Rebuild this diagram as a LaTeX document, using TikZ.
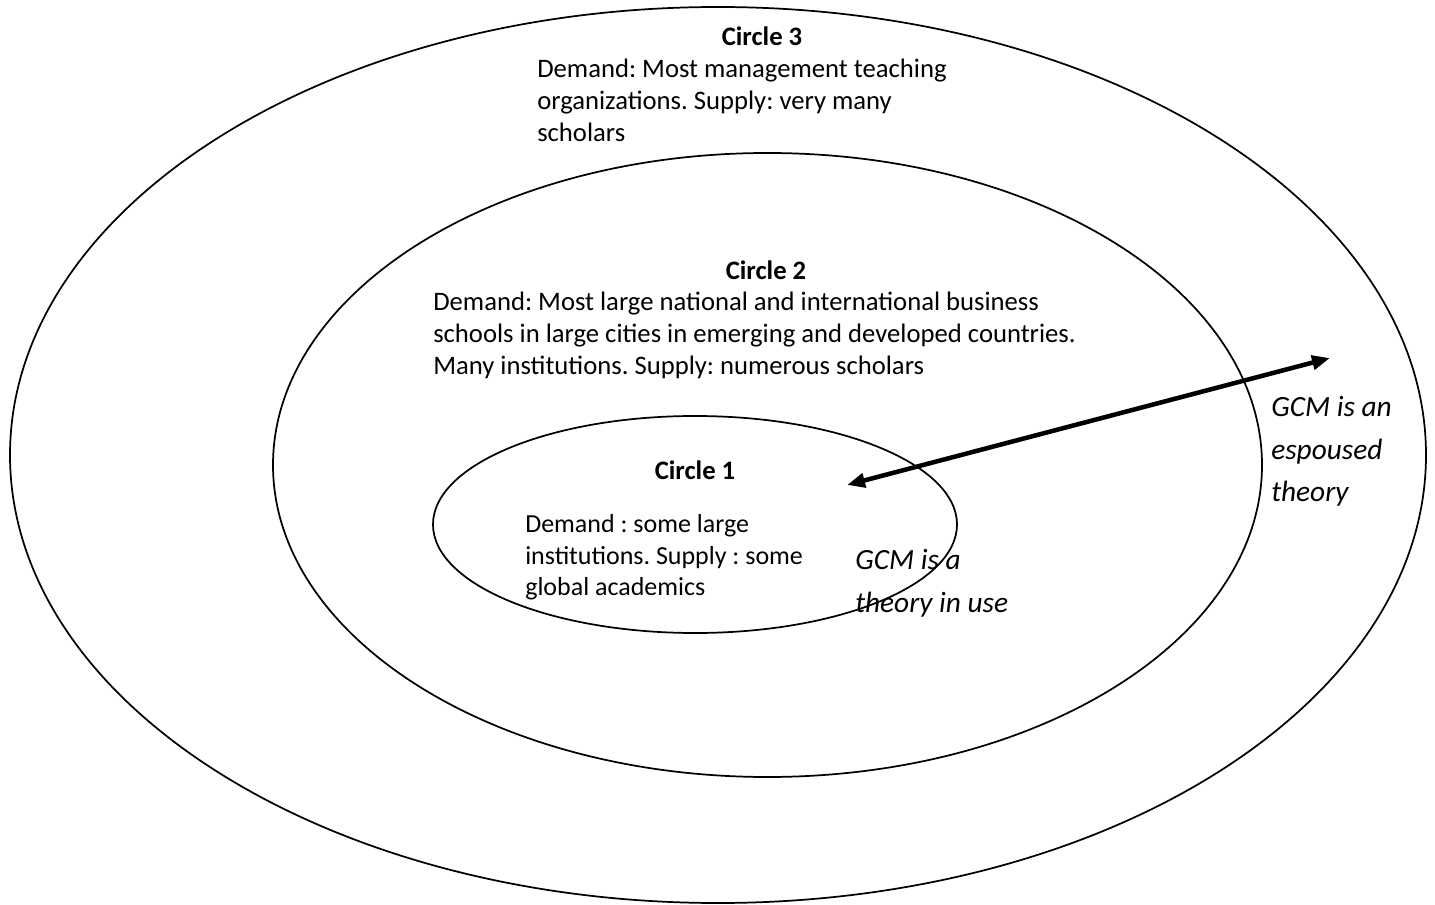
\documentclass[tikz,border=0pt]{standalone}
\usepackage{fontspec}
\setmainfont{Carlito}
\frenchspacing
\usetikzlibrary{shapes.geometric,arrows.meta}
\tikzset{
  ring/.style={draw=black, line width=1.3pt, ellipse, inner sep=0pt, fill=none},
  title/.style={font=\bfseries\fontsize{20}{24}\selectfont, inner sep=0pt},
  body/.style={font=\fontsize{20}{24}\selectfont, align=left, inner sep=0pt, anchor=north west},
  small/.style={font=\fontsize{19.5}{23.5}\selectfont, align=left, inner sep=0pt, anchor=north west},
  note/.style={font=\itshape\fontsize{22}{32}\selectfont, align=left, inner sep=0pt, anchor=north west},
  bigarrow/.style={{Triangle[length=13.5pt,width=10.5pt]}-{Triangle[length=13.5pt,width=10.5pt]}, line width=3.4pt}
}
\begin{document}
\begin{tikzpicture}[x=0.75pt,y=-0.75pt]
\useasboundingbox (0,0) rectangle (1435,905);
\node[ring, minimum width=1062pt, minimum height=672pt] (outer) at (718,455) {};
\node[ring, minimum width=741.75pt, minimum height=468pt] (middle) at (767.5,465) {};
\node[ring, minimum width=393pt, minimum height=162.75pt] (inner) at (695,524.5) {};

\node[title] (t3) at (762,36) {Circle 3};
\node[body] (d3) at (537,59) {Demand: Most management teaching\\organizations. Supply: very many\\scholars};

\node[title] (t2) at (766,270) {Circle 2};
\node[body] (d2) at (433,292) {Demand: Most large national and international business\\schools in large cities in emerging and developed countries.\\Many institutions. Supply: numerous scholars};

\node[title] (t1) at (695,470) {Circle 1};
\node[small] (d1) at (525,514.5) {Demand : some large\\institutions. Supply : some\\global academics};

\node[note] (n1) at (855,549) {GCM is a\\theory in use};
\node[note] (n2) at (1271,396) {GCM is an\\espoused\\theory};

\coordinate (a) at (1330,358);
\coordinate (b) at (847,485);
\draw[bigarrow] (b) -- (a);
\end{tikzpicture}
\end{document}
